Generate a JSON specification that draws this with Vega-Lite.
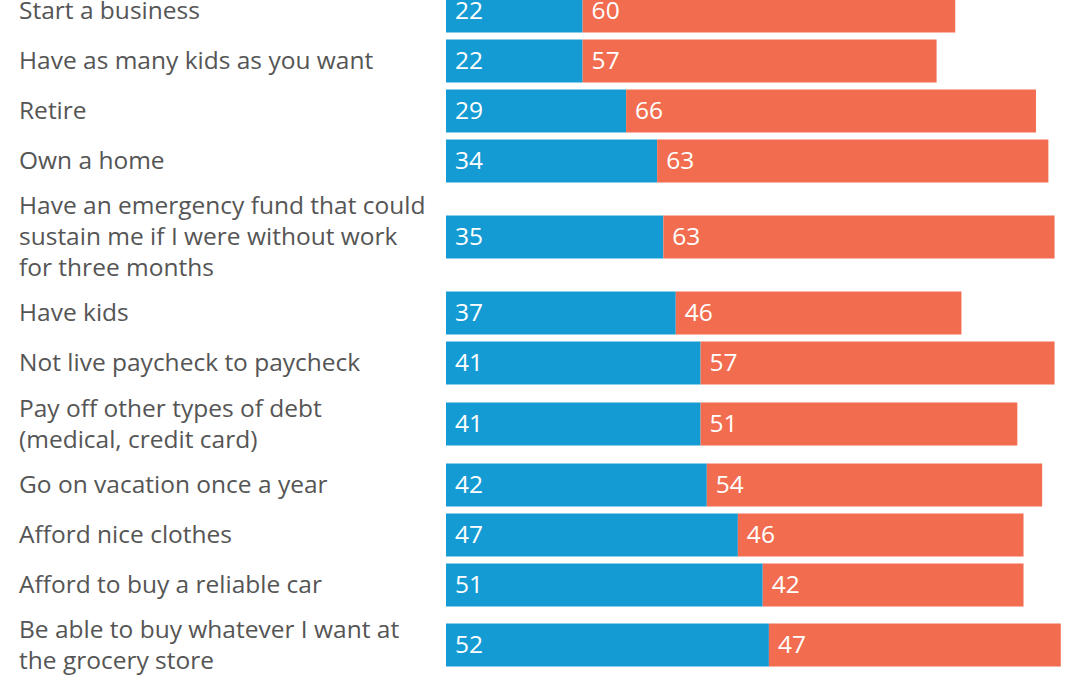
{
  "$schema": "https://vega.github.io/schema/vega-lite/v6.json",
  "padding": {"left": 19, "top": -14, "right": 0, "bottom": 0},
  "background": "white",
  "data": {
    "values": [
      {"item": "Start a business", "label": ["Start a business"], "group": "a", "value": 22},
      {"item": "Start a business", "label": ["Start a business"], "group": "b", "value": 60},
      {"item": "Have as many kids as you want", "label": ["Have as many kids as you want"], "group": "a", "value": 22},
      {"item": "Have as many kids as you want", "label": ["Have as many kids as you want"], "group": "b", "value": 57},
      {"item": "Retire", "label": ["Retire"], "group": "a", "value": 29},
      {"item": "Retire", "label": ["Retire"], "group": "b", "value": 66},
      {"item": "Own a home", "label": ["Own a home"], "group": "a", "value": 34},
      {"item": "Own a home", "label": ["Own a home"], "group": "b", "value": 63},
      {"item": "Emergency fund", "label": ["Have an emergency fund that could", "sustain me if I were without work", "for three months"], "group": "a", "value": 35},
      {"item": "Emergency fund", "label": ["Have an emergency fund that could", "sustain me if I were without work", "for three months"], "group": "b", "value": 63},
      {"item": "Have kids", "label": ["Have kids"], "group": "a", "value": 37},
      {"item": "Have kids", "label": ["Have kids"], "group": "b", "value": 46},
      {"item": "Not live paycheck to paycheck", "label": ["Not live paycheck to paycheck"], "group": "a", "value": 41},
      {"item": "Not live paycheck to paycheck", "label": ["Not live paycheck to paycheck"], "group": "b", "value": 57},
      {"item": "Pay off other debt", "label": ["Pay off other types of debt", "(medical, credit card)"], "group": "a", "value": 41},
      {"item": "Pay off other debt", "label": ["Pay off other types of debt", "(medical, credit card)"], "group": "b", "value": 51},
      {"item": "Go on vacation once a year", "label": ["Go on vacation once a year"], "group": "a", "value": 42},
      {"item": "Go on vacation once a year", "label": ["Go on vacation once a year"], "group": "b", "value": 54},
      {"item": "Afford nice clothes", "label": ["Afford nice clothes"], "group": "a", "value": 47},
      {"item": "Afford nice clothes", "label": ["Afford nice clothes"], "group": "b", "value": 46},
      {"item": "Afford to buy a reliable car", "label": ["Afford to buy a reliable car"], "group": "a", "value": 51},
      {"item": "Afford to buy a reliable car", "label": ["Afford to buy a reliable car"], "group": "b", "value": 42},
      {"item": "Grocery store", "label": ["Be able to buy whatever I want at", "the grocery store"], "group": "a", "value": 52},
      {"item": "Grocery store", "label": ["Be able to buy whatever I want at", "the grocery store"], "group": "b", "value": 47}
    ]
  },
  "transform": [
    {"stack": "value", "groupby": ["item"], "sort": [{"field": "group", "order": "ascending"}], "as": ["x0", "x1"]}
  ],
  "spacing": 0,
  "bounds": "flush",
  "vconcat": [
    {
      "height": 200,
      "width": 621,
      "transform": [{"filter": {"field": "item", "oneOf": ["Start a business", "Have as many kids as you want", "Retire", "Own a home"]}}],
      "encoding": {"y": {"field": "item", "type": "nominal", "sort": null, "axis": null, "scale": {"paddingInner": 0, "paddingOuter": 0}}},
      "layer": [
        {"mark": {"type": "bar", "height": 43}, "encoding": {"x": {"field": "x0", "type": "quantitative", "scale": {"domain": [0, 100]}, "axis": null}, "x2": {"field": "x1"}, "color": {"field": "group", "type": "nominal", "scale": {"domain": ["a", "b"], "range": ["#159BD3", "#F26D50"]}, "legend": null}}},
        {"mark": {"type": "text", "align": "left", "baseline": "middle", "dx": 9, "dy": 1, "fontSize": 24.5, "font": "Open Sans", "color": "white"}, "encoding": {"x": {"field": "x0", "type": "quantitative"}, "text": {"field": "value", "type": "quantitative"}}},
        {"transform": [{"filter": "datum.group == 'a'"}], "mark": {"type": "text", "align": "left", "baseline": "middle", "dx": -427, "dy": 1, "fontSize": 24.5, "font": "Open Sans", "lineHeight": 31, "color": "#555555"}, "encoding": {"x": {"datum": 0, "type": "quantitative"}, "text": {"field": "label"}}}
      ]
    },
    {
      "height": 102,
      "width": 621,
      "transform": [{"filter": {"field": "item", "oneOf": ["Emergency fund"]}}],
      "encoding": {"y": {"field": "item", "type": "nominal", "sort": null, "axis": null, "scale": {"paddingInner": 0, "paddingOuter": 0}}},
      "layer": [
        {"mark": {"type": "bar", "height": 43}, "encoding": {"x": {"field": "x0", "type": "quantitative", "scale": {"domain": [0, 100]}, "axis": null}, "x2": {"field": "x1"}, "color": {"field": "group", "type": "nominal", "scale": {"domain": ["a", "b"], "range": ["#159BD3", "#F26D50"]}, "legend": null}}},
        {"mark": {"type": "text", "align": "left", "baseline": "middle", "dx": 9, "dy": 1, "fontSize": 24.5, "font": "Open Sans", "color": "white"}, "encoding": {"x": {"field": "x0", "type": "quantitative"}, "text": {"field": "value", "type": "quantitative"}}},
        {"transform": [{"filter": "datum.group == 'a'"}], "mark": {"type": "text", "align": "left", "baseline": "middle", "dx": -427, "dy": -30, "fontSize": 24.5, "font": "Open Sans", "lineHeight": 31, "color": "#555555"}, "encoding": {"x": {"datum": 0, "type": "quantitative"}, "text": {"field": "label"}}}
      ]
    },
    {
      "height": 100,
      "width": 621,
      "transform": [{"filter": {"field": "item", "oneOf": ["Have kids", "Not live paycheck to paycheck"]}}],
      "encoding": {"y": {"field": "item", "type": "nominal", "sort": null, "axis": null, "scale": {"paddingInner": 0, "paddingOuter": 0}}},
      "layer": [
        {"mark": {"type": "bar", "height": 43}, "encoding": {"x": {"field": "x0", "type": "quantitative", "scale": {"domain": [0, 100]}, "axis": null}, "x2": {"field": "x1"}, "color": {"field": "group", "type": "nominal", "scale": {"domain": ["a", "b"], "range": ["#159BD3", "#F26D50"]}, "legend": null}}},
        {"mark": {"type": "text", "align": "left", "baseline": "middle", "dx": 9, "dy": 1, "fontSize": 24.5, "font": "Open Sans", "color": "white"}, "encoding": {"x": {"field": "x0", "type": "quantitative"}, "text": {"field": "value", "type": "quantitative"}}},
        {"transform": [{"filter": "datum.group == 'a'"}], "mark": {"type": "text", "align": "left", "baseline": "middle", "dx": -427, "dy": 1, "fontSize": 24.5, "font": "Open Sans", "lineHeight": 31, "color": "#555555"}, "encoding": {"x": {"datum": 0, "type": "quantitative"}, "text": {"field": "label"}}}
      ]
    },
    {
      "height": 72,
      "width": 621,
      "transform": [{"filter": {"field": "item", "oneOf": ["Pay off other debt"]}}],
      "encoding": {"y": {"field": "item", "type": "nominal", "sort": null, "axis": null, "scale": {"paddingInner": 0, "paddingOuter": 0}}},
      "layer": [
        {"mark": {"type": "bar", "height": 43}, "encoding": {"x": {"field": "x0", "type": "quantitative", "scale": {"domain": [0, 100]}, "axis": null}, "x2": {"field": "x1"}, "color": {"field": "group", "type": "nominal", "scale": {"domain": ["a", "b"], "range": ["#159BD3", "#F26D50"]}, "legend": null}}},
        {"mark": {"type": "text", "align": "left", "baseline": "middle", "dx": 9, "dy": 1, "fontSize": 24.5, "font": "Open Sans", "color": "white"}, "encoding": {"x": {"field": "x0", "type": "quantitative"}, "text": {"field": "value", "type": "quantitative"}}},
        {"transform": [{"filter": "datum.group == 'a'"}], "mark": {"type": "text", "align": "left", "baseline": "middle", "dx": -427, "dy": -14.5, "fontSize": 24.5, "font": "Open Sans", "lineHeight": 31, "color": "#555555"}, "encoding": {"x": {"datum": 0, "type": "quantitative"}, "text": {"field": "label"}}}
      ]
    },
    {
      "height": 150,
      "width": 621,
      "transform": [{"filter": {"field": "item", "oneOf": ["Go on vacation once a year", "Afford nice clothes", "Afford to buy a reliable car"]}}],
      "encoding": {"y": {"field": "item", "type": "nominal", "sort": null, "axis": null, "scale": {"paddingInner": 0, "paddingOuter": 0}}},
      "layer": [
        {"mark": {"type": "bar", "height": 43}, "encoding": {"x": {"field": "x0", "type": "quantitative", "scale": {"domain": [0, 100]}, "axis": null}, "x2": {"field": "x1"}, "color": {"field": "group", "type": "nominal", "scale": {"domain": ["a", "b"], "range": ["#159BD3", "#F26D50"]}, "legend": null}}},
        {"mark": {"type": "text", "align": "left", "baseline": "middle", "dx": 9, "dy": 1, "fontSize": 24.5, "font": "Open Sans", "color": "white"}, "encoding": {"x": {"field": "x0", "type": "quantitative"}, "text": {"field": "value", "type": "quantitative"}}},
        {"transform": [{"filter": "datum.group == 'a'"}], "mark": {"type": "text", "align": "left", "baseline": "middle", "dx": -427, "dy": 1, "fontSize": 24.5, "font": "Open Sans", "lineHeight": 31, "color": "#555555"}, "encoding": {"x": {"datum": 0, "type": "quantitative"}, "text": {"field": "label"}}}
      ]
    },
    {
      "height": 70,
      "width": 621,
      "transform": [{"filter": {"field": "item", "oneOf": ["Grocery store"]}}],
      "encoding": {"y": {"field": "item", "type": "nominal", "sort": null, "axis": null, "scale": {"paddingInner": 0, "paddingOuter": 0}}},
      "layer": [
        {"mark": {"type": "bar", "height": 43}, "encoding": {"x": {"field": "x0", "type": "quantitative", "scale": {"domain": [0, 100]}, "axis": null}, "x2": {"field": "x1"}, "color": {"field": "group", "type": "nominal", "scale": {"domain": ["a", "b"], "range": ["#159BD3", "#F26D50"]}, "legend": null}}},
        {"mark": {"type": "text", "align": "left", "baseline": "middle", "dx": 9, "dy": 1, "fontSize": 24.5, "font": "Open Sans", "color": "white"}, "encoding": {"x": {"field": "x0", "type": "quantitative"}, "text": {"field": "value", "type": "quantitative"}}},
        {"transform": [{"filter": "datum.group == 'a'"}], "mark": {"type": "text", "align": "left", "baseline": "middle", "dx": -427, "dy": -14.5, "fontSize": 24.5, "font": "Open Sans", "lineHeight": 31, "color": "#555555"}, "encoding": {"x": {"datum": 0, "type": "quantitative"}, "text": {"field": "label"}}}
      ]
    }
  ],
  "resolve": {"scale": {"x": "shared", "color": "shared"}},
  "config": {"view": {"stroke": null}}
}
